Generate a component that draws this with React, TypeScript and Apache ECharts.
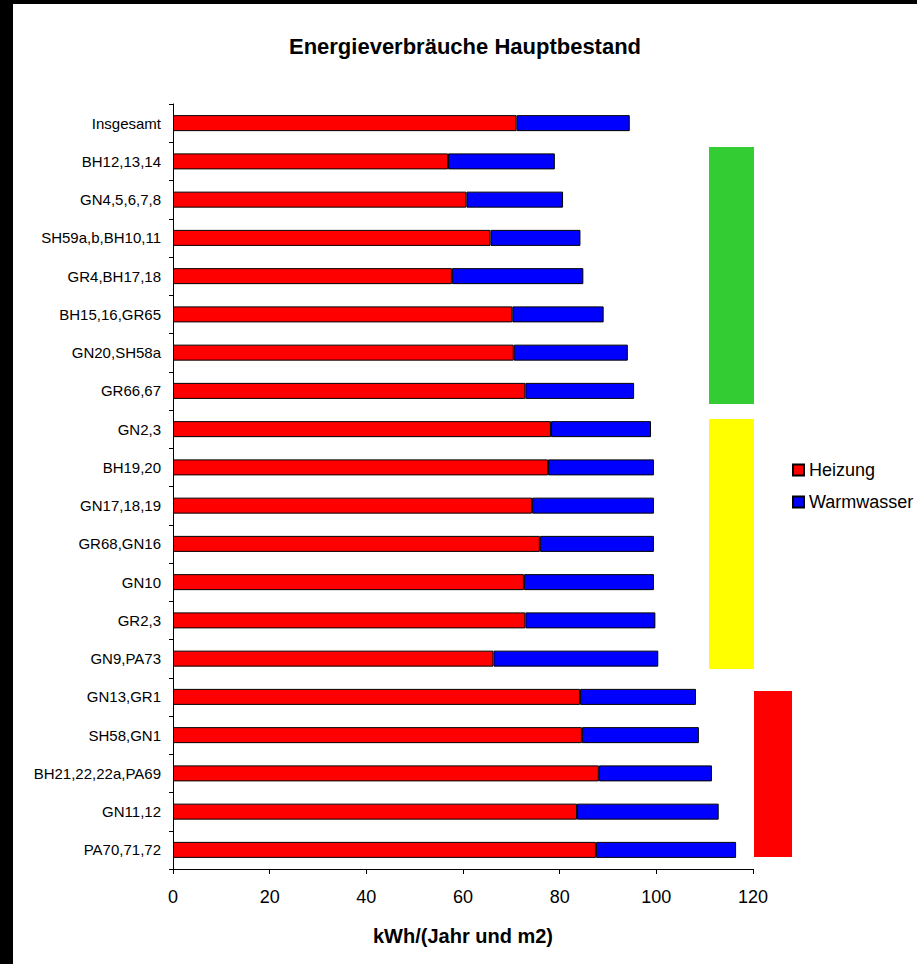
import React, { useEffect, useRef } from "react";
import * as echarts from "echarts";

const categories = [
  "Insgesamt",
  "BH12,13,14",
  "GN4,5,6,7,8",
  "SH59a,b,BH10,11",
  "GR4,BH17,18",
  "BH15,16,GR65",
  "GN20,SH58a",
  "GR66,67",
  "GN2,3",
  "BH19,20",
  "GN17,18,19",
  "GR68,GN16",
  "GN10",
  "GR2,3",
  "GN9,PA73",
  "GN13,GR1",
  "SH58,GN1",
  "BH21,22,22a,PA69",
  "GN11,12",
  "PA70,71,72",
];

const heizung = [
  71.1, 56.9, 60.7, 65.7, 57.7, 70.2, 70.5, 72.9, 78.2, 77.6, 74.3, 75.9, 72.6, 72.9, 66.3, 84.2, 84.6, 88.1,
  83.6, 87.5,
];

const warmwasser = [
  23.4, 22.1, 20.0, 18.6, 27.2, 18.9, 23.6, 22.5, 20.7, 21.9, 25.2, 23.6, 26.9, 26.9, 34.1, 24.0, 24.2, 23.4,
  29.3, 29.0,
];

const xTicks = [0, 20, 40, 60, 80, 100, 120];

const FONT = "'Liberation Sans', Arial, sans-serif";

export default function App() {
  const ref = useRef<HTMLDivElement>(null);

  useEffect(() => {
    if (!ref.current) return;
    const chart = echarts.init(ref.current, undefined, { renderer: "svg" });
    chart.setOption({
      animation: false,
      backgroundColor: "#ffffff",
      textStyle: { fontFamily: FONT, color: "#000" },
      title: {
        text: "Energieverbräuche Hauptbestand",
        left: "center",
        top: 26,
        textStyle: { fontFamily: FONT, fontSize: 22, fontWeight: "bold", color: "#000" },
      },
      legend: {
        orient: "vertical",
        left: 774,
        top: 452,
        itemWidth: 11,
        itemHeight: 11,
        itemGap: 14,
        icon: "rect",
        textStyle: { fontFamily: FONT, fontSize: 18, color: "#000" },
        data: ["Heizung", "Warmwasser"],
      },
      grid: { left: 160, right: 164, top: 100, bottom: 95, containLabel: false },
      xAxis: {
        type: "value",
        min: xTicks[0],
        max: xTicks[xTicks.length - 1],
        interval: 20,
        name: "kWh/(Jahr und m2)",
        nameLocation: "middle",
        nameGap: 57,
        nameTextStyle: { fontFamily: FONT, fontSize: 20, fontWeight: "bold", color: "#000" },
        axisLine: { show: true, lineStyle: { color: "#000", width: 1 } },
        axisTick: { show: true, length: 5, lineStyle: { color: "#000" } },
        axisLabel: { fontFamily: FONT, fontSize: 18, color: "#000", margin: 19 },
        splitLine: { show: false },
      },
      yAxis: {
        type: "category",
        inverse: true,
        data: categories,
        axisLine: { show: true, lineStyle: { color: "#000", width: 1 } },
        axisTick: { show: true, length: 4, lineStyle: { color: "#000" } },
        axisLabel: { fontFamily: FONT, fontSize: 15, color: "#000", margin: 12 },
        splitLine: { show: false },
      },
      series: [
        {
          name: "Heizung",
          type: "bar",
          stack: "total",
          barWidth: 16,
          data: heizung,
          itemStyle: { color: "#FF0000", borderColor: "#000", borderWidth: 1 },
        },
        {
          name: "Warmwasser",
          type: "bar",
          stack: "total",
          barWidth: 16,
          data: warmwasser,
          itemStyle: { color: "#0000FF", borderColor: "#000", borderWidth: 1 },
        },
      ],
      graphic: [
        { type: "rect", shape: { x: 696, y: 143, width: 45, height: 257 }, style: { fill: "#33CC33" }, z: 1 },
        { type: "rect", shape: { x: 696, y: 415, width: 45, height: 250 }, style: { fill: "#FFFF00" }, z: 1 },
        { type: "rect", shape: { x: 741, y: 687, width: 38, height: 166 }, style: { fill: "#FF0000" }, z: 1 },
      ],
    });
    return () => chart.dispose();
  }, []);

  return (
    <div
      style={{
        position: "fixed",
        left: 0,
        top: 0,
        width: 917,
        height: 964,
        background: "#000",
        overflow: "hidden",
      }}
    >
      <div
        ref={ref}
        style={{ position: "absolute", left: 13, top: 4, width: 904, height: 960, background: "#fff" }}
      />
    </div>
  );
}
